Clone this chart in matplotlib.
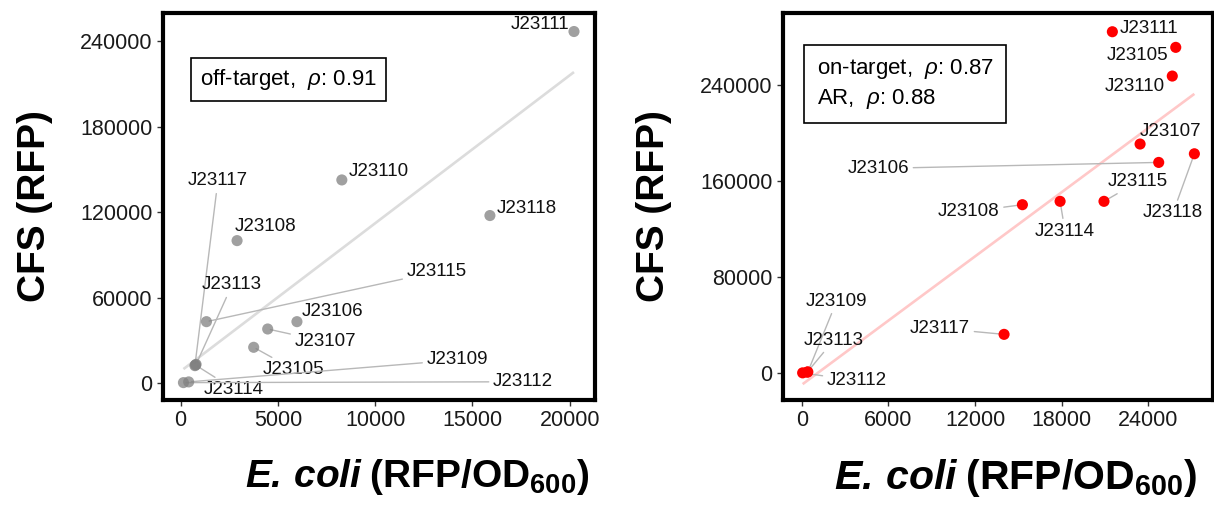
import matplotlib
matplotlib.use("Agg")
import matplotlib.pyplot as plt
import numpy as np

plt.rcParams["font.family"] = ["Liberation Sans", "DejaVu Sans"]
plt.rcParams["mathtext.fontset"] = "custom"
plt.rcParams["mathtext.rm"] = "Liberation Sans"
plt.rcParams["mathtext.it"] = "Liberation Sans:italic"
plt.rcParams["mathtext.bf"] = "Liberation Sans:bold"
plt.rcParams["mathtext.bfit"] = "Liberation Sans:bold:italic"

# ---- off-target panel data ----
off_names = ["J23111", "J23110", "J23118", "J23108", "J23115", "J23106", "J23107",
             "J23105", "J23114", "J23117", "J23113", "J23109", "J23112"]
off_x = [20220, 8290, 15900, 2906, 1333, 5983, 4480, 3760, 770, 740, 800, 420, 150]
off_y = [247000, 142800, 117800, 100200, 43300, 43300, 38150, 25300, 12860, 12400, 13300, 1000, 500]
off_label_x = [18460, 10180, 17780, 4360, 13160, 7820, 7440, 5800, 2750, 1920, 2650, 14220, 17600]
off_label_y = [251700, 148700, 123000, 110000, 78400, 50300, 29200, 9830, -4200, 142100, 69100, 16400, 1100]
off_leader = [False, False, False, False, True, False, True, True, True, True, True, True, True]
off_fit = (10.39, 8450)      # slope, intercept
off_rho = 0.91

# ---- on-target panel data ----
on_names = ["J23111", "J23105", "J23110", "J23107", "J23106", "J23118", "J23115",
            "J23114", "J23108", "J23117", "J23109", "J23113", "J23112"]
on_x = [21510, 25900, 25660, 23430, 24720, 27190, 20930, 17890, 15280, 14010, 420, 380, 60]
on_y = [284400, 271400, 247500, 190900, 175600, 182800, 143200, 143200, 140400, 32450, 1200, 1000, 400]
on_label_x = [24030, 23280, 23050, 25550, 5300, 25710, 23280, 18230, 11570, 9580, 2420, 2220, 3810]
on_label_y = [287200, 265000, 239200, 201100, 170600, 133700, 159500, 118500, 134500, 37450, 60200, 27700, -6200]
on_leader = [False, False, False, False, True, True, True, True, True, True, True, True, True]
on_fit = (8.907, -9520)
on_rho = 0.87
ar_rho = 0.88

fig = plt.figure(figsize=(12.14, 5.05), dpi=100)
ax1 = fig.add_axes([163 / 1214, 105 / 505, 432 / 1214, 387 / 505])
ax2 = fig.add_axes([783 / 1214, 105 / 505, 430 / 1214, 387 / 505])

XLABEL = r"$\mathbfit{E.}\,\mathbfit{coli}\;\mathbf{(RFP/OD_{600})}$"


def draw_panel(ax, xs, ys, names, lx, ly, leader, fit, color, alpha, fitcolor, xlabel_size):
    xs = np.asarray(xs, float)
    ys = np.asarray(ys, float)
    xr = np.array([xs.min(), xs.max()])
    ax.plot(xr, fit[0] * xr + fit[1], color=fitcolor, lw=1.9, zorder=1,
            solid_capstyle="butt")
    ax.scatter(xs, ys, s=64, color=color, alpha=alpha, edgecolors="none", zorder=3)
    for name, x, y, tx, ty, lead in zip(names, xs, ys, lx, ly, leader):
        props = None
        if lead:
            props = dict(arrowstyle="-", color="#b8b8b8", lw=1.0,
                         shrinkA=1, shrinkB=2)
        ax.annotate(name, xy=(x, y), xytext=(tx, ty), ha="center", va="center",
                    fontsize=13.5, color="#111111", arrowprops=props, zorder=2)
    for s in ax.spines.values():
        s.set_linewidth(3.0)
        s.set_color("black")
    ax.tick_params(axis="both", direction="out", length=4.5, width=1.0,
                   labelsize=15.5, pad=3, color="#333333", labelcolor="#1a1a1a")
    ax.set_ylabel("CFS (RFP)", fontsize=28, fontweight="bold")
    ax.set_xlabel(XLABEL, fontsize=xlabel_size)


draw_panel(ax1, off_x, off_y, off_names, off_label_x, off_label_y, off_leader,
           off_fit, "#808080", 0.75, "#dcdcdc", 28)
ax1.set_xlim(-900, 21300)
ax1.set_ylim(-11700, 260000)
ax1.set_xticks([0, 5000, 10000, 15000, 20000])
ax1.set_yticks([0, 60000, 120000, 180000, 240000])
ax1.text(0.086, 0.829, r"off-target,  $\rho$: " + f"{off_rho:.2f}",
         transform=ax1.transAxes, ha="left", va="center", fontsize=16,
         bbox=dict(boxstyle="square,pad=0.4", fc="white", ec="black", lw=1.2))

draw_panel(ax2, on_x, on_y, on_names, on_label_x, on_label_y, on_leader,
           on_fit, "#ff0000", 1.0, "#ffc8c8", 29.5)
ax2.set_xlim(-1300, 28480)
ax2.set_ylim(-22200, 300000)
ax2.set_xticks([0, 6000, 12000, 18000, 24000])
ax2.set_yticks([0, 80000, 160000, 240000])
ax2.text(0.078, 0.8165,
         r"on-target,  $\rho$: " + f"{on_rho:.2f}" + "\n" + r"AR,  $\rho$: " + f"{ar_rho:.2f}",
         transform=ax2.transAxes, ha="left", va="center", fontsize=16,
         linespacing=1.3,
         bbox=dict(boxstyle="square,pad=0.55", fc="white", ec="black", lw=1.2))

ax1.yaxis.set_label_coords(-0.254, 0.5)
ax2.yaxis.set_label_coords(-0.259, 0.5)
ax1.xaxis.set_label_coords(0.588, -0.148)
ax2.xaxis.set_label_coords(0.54, -0.148)

fig.savefig("out.png", dpi=100, facecolor="white")
